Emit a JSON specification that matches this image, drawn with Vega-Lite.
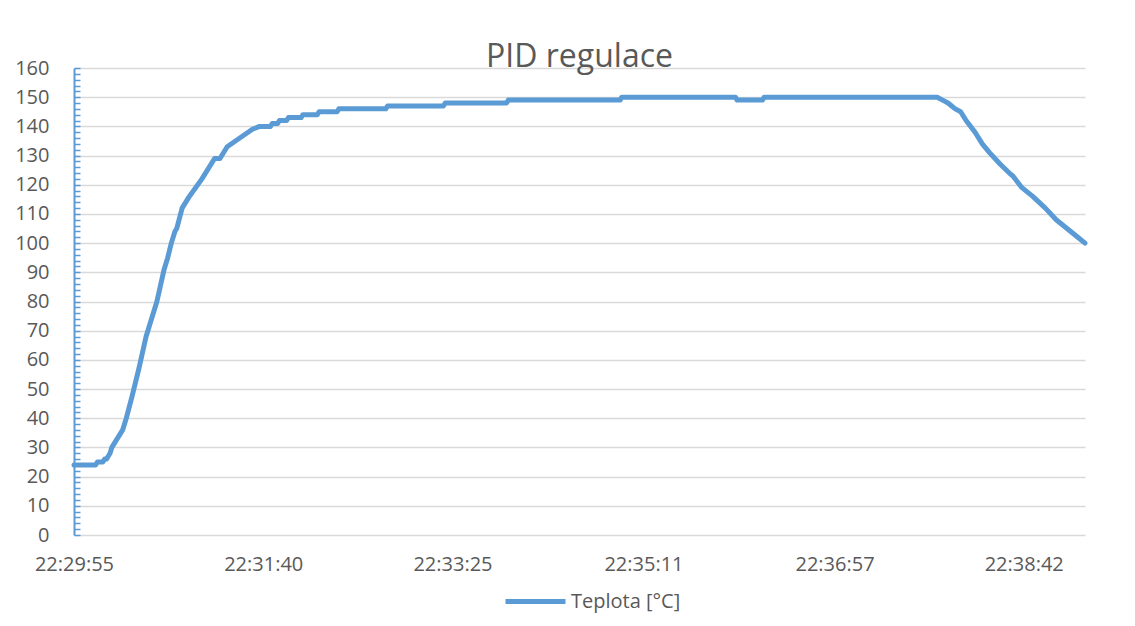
{
  "$schema": "https://vega.github.io/schema/vega-lite/v6.json",
  "width": 1011,
  "height": 467,
  "autosize": {"type": "none"},
  "padding": {"left": 74, "top": 68, "right": 50, "bottom": 91},
  "background": "white",
  "title": {"text": "PID regulace", "font": "Open Sans", "fontSize": 32, "fontWeight": "normal", "color": "#595959", "anchor": "middle", "frame": "group", "baseline": "alphabetic", "offset": 2, "dy": 43},
  "data": {
    "format": {"parse": {"cas": "date:'%H:%M:%S'"}},
    "values": [
      {"cas": "22:29:55", "teplota": 24},
      {"cas": "22:30:07", "teplota": 24},
      {"cas": "22:30:08", "teplota": 25},
      {"cas": "22:30:11", "teplota": 25},
      {"cas": "22:30:12", "teplota": 26},
      {"cas": "22:30:13", "teplota": 26},
      {"cas": "22:30:14", "teplota": 27},
      {"cas": "22:30:15", "teplota": 28},
      {"cas": "22:30:16", "teplota": 30},
      {"cas": "22:30:19", "teplota": 33},
      {"cas": "22:30:21", "teplota": 35},
      {"cas": "22:30:22", "teplota": 36},
      {"cas": "22:30:24", "teplota": 40},
      {"cas": "22:30:27", "teplota": 47},
      {"cas": "22:30:31", "teplota": 57},
      {"cas": "22:30:35", "teplota": 68},
      {"cas": "22:30:41", "teplota": 80},
      {"cas": "22:30:45", "teplota": 91},
      {"cas": "22:30:47", "teplota": 95},
      {"cas": "22:30:49", "teplota": 100},
      {"cas": "22:30:51", "teplota": 104},
      {"cas": "22:30:52", "teplota": 105},
      {"cas": "22:30:55", "teplota": 112},
      {"cas": "22:30:59", "teplota": 116},
      {"cas": "22:31:06", "teplota": 122},
      {"cas": "22:31:13", "teplota": 129},
      {"cas": "22:31:16", "teplota": 129},
      {"cas": "22:31:20", "teplota": 133},
      {"cas": "22:31:27", "teplota": 136},
      {"cas": "22:31:34", "teplota": 139},
      {"cas": "22:31:38", "teplota": 140},
      {"cas": "22:31:44", "teplota": 140},
      {"cas": "22:31:45", "teplota": 141},
      {"cas": "22:31:48", "teplota": 141},
      {"cas": "22:31:49", "teplota": 142},
      {"cas": "22:31:53", "teplota": 142},
      {"cas": "22:31:54", "teplota": 143},
      {"cas": "22:32:01", "teplota": 143},
      {"cas": "22:32:02", "teplota": 144},
      {"cas": "22:32:10", "teplota": 144},
      {"cas": "22:32:11", "teplota": 145},
      {"cas": "22:32:21", "teplota": 145},
      {"cas": "22:32:22", "teplota": 146},
      {"cas": "22:32:48", "teplota": 146},
      {"cas": "22:32:49", "teplota": 147},
      {"cas": "22:33:20", "teplota": 147},
      {"cas": "22:33:21", "teplota": 148},
      {"cas": "22:33:55", "teplota": 148},
      {"cas": "22:33:56", "teplota": 149},
      {"cas": "22:34:58", "teplota": 149},
      {"cas": "22:34:59", "teplota": 150},
      {"cas": "22:36:02", "teplota": 150},
      {"cas": "22:36:03", "teplota": 149},
      {"cas": "22:36:17", "teplota": 149},
      {"cas": "22:36:18", "teplota": 150},
      {"cas": "22:37:54", "teplota": 150},
      {"cas": "22:37:57", "teplota": 149},
      {"cas": "22:38:00", "teplota": 148},
      {"cas": "22:38:02", "teplota": 147},
      {"cas": "22:38:04", "teplota": 146},
      {"cas": "22:38:07", "teplota": 145},
      {"cas": "22:38:10", "teplota": 142},
      {"cas": "22:38:15", "teplota": 138},
      {"cas": "22:38:19", "teplota": 134},
      {"cas": "22:38:23", "teplota": 131},
      {"cas": "22:38:29", "teplota": 127},
      {"cas": "22:38:34", "teplota": 124},
      {"cas": "22:38:36", "teplota": 123},
      {"cas": "22:38:41", "teplota": 119},
      {"cas": "22:38:47", "teplota": 116},
      {"cas": "22:38:54", "teplota": 112},
      {"cas": "22:39:00", "teplota": 108},
      {"cas": "22:39:06", "teplota": 105},
      {"cas": "22:39:12", "teplota": 102},
      {"cas": "22:39:16", "teplota": 100}
    ]
  },
  "mark": {"type": "line", "strokeWidth": 5, "strokeCap": "round", "strokeJoin": "round"},
  "encoding": {
    "x": {
      "field": "cas",
      "type": "temporal",
      "scale": {
        "domain": [
          {"year": 1900, "month": 1, "date": 1, "hours": 22, "minutes": 29, "seconds": 55},
          {"year": 1900, "month": 1, "date": 1, "hours": 22, "minutes": 39, "seconds": 16}
        ],
        "nice": false
      },
      "axis": {
        "values": [
          {"year": 1900, "month": 1, "date": 1, "hours": 22, "minutes": 29, "seconds": 55},
          {"year": 1900, "month": 1, "date": 1, "hours": 22, "minutes": 31, "seconds": 40},
          {"year": 1900, "month": 1, "date": 1, "hours": 22, "minutes": 33, "seconds": 25},
          {"year": 1900, "month": 1, "date": 1, "hours": 22, "minutes": 35, "seconds": 11},
          {"year": 1900, "month": 1, "date": 1, "hours": 22, "minutes": 36, "seconds": 57},
          {"year": 1900, "month": 1, "date": 1, "hours": 22, "minutes": 38, "seconds": 42}
        ],
        "format": "%H:%M:%S",
        "ticks": false,
        "domain": false,
        "grid": false,
        "title": null,
        "labelFont": "Open Sans",
        "labelFontSize": 20,
        "labelColor": "#595959",
        "labelPadding": 19,
        "labelFlush": false,
        "labelOverlap": false
      }
    },
    "y": {
      "field": "teplota",
      "type": "quantitative",
      "scale": {"domain": [0, 160], "nice": false},
      "axis": {
        "values": [0,2,4,6,8,10,12,14,16,18,20,22,24,26,28,30,32,34,36,38,40,42,44,46,48,50,52,54,56,58,60,62,64,66,68,70,72,74,76,78,80,82,84,86,88,90,92,94,96,98,100,102,104,106,108,110,112,114,116,118,120,122,124,126,128,130,132,134,136,138,140,142,144,146,148,150,152,154,156,158,160],
        "labelExpr": "datum.value % 10 === 0 ? datum.label : ''",
        "gridOpacity": {"condition": {"test": "datum.value % 10 === 0", "value": 1}, "value": 0},
        "gridColor": "#D9D9D9",
        "gridWidth": 1.5,
        "domainColor": "#5B9BD5",
        "domainWidth": 2,
        "tickColor": "#5B9BD5",
        "tickSize": -6,
        "tickWidth": 1.5,
        "title": null,
        "labelFont": "Open Sans",
        "labelFontSize": 20,
        "labelColor": "#595959",
        "labelPadding": 31,
        "labelOverlap": false
      }
    },
    "color": {
      "datum": "Teplota [°C]",
      "scale": {"range": ["#5B9BD5"]},
      "legend": {
        "orient": "none",
        "legendX": 429,
        "legendY": 501,
        "direction": "horizontal",
        "title": null,
        "symbolType": "stroke",
        "symbolSize": 3600,
        "symbolStrokeWidth": 5,
        "labelFont": "Open Sans",
        "labelFontSize": 20,
        "labelColor": "#595959",
        "labelOffset": 3
      }
    }
  },
  "config": {"view": {"stroke": null}, "font": "Open Sans"}
}
